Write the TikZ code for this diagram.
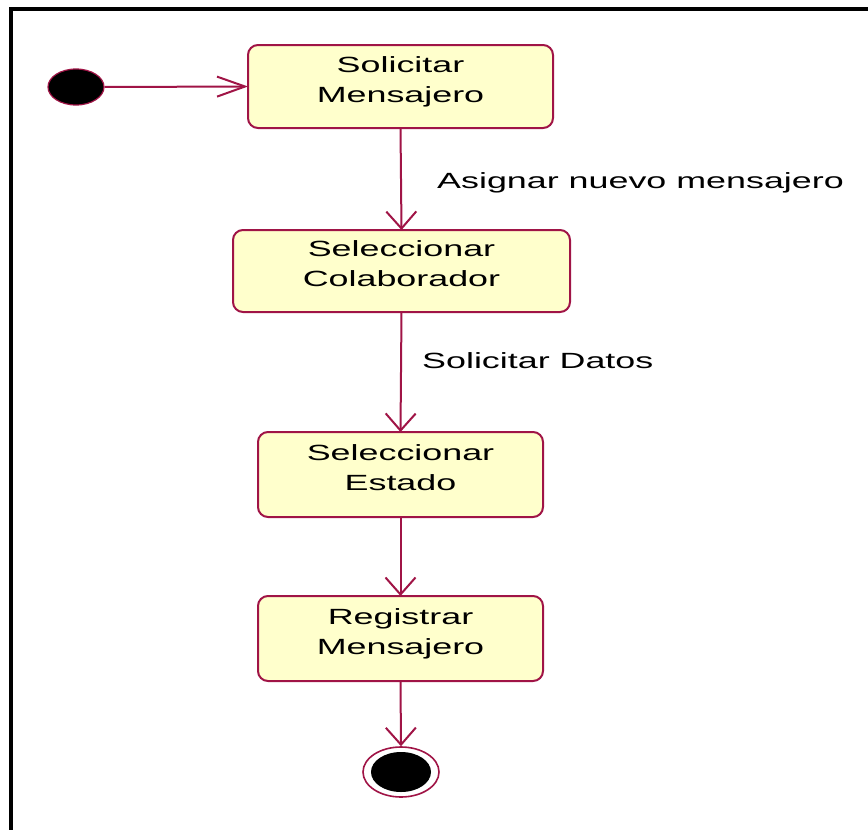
\documentclass[tikz,border=0pt]{standalone}
\usepackage{fontspec}
\usetikzlibrary{arrows.meta,shapes.geometric}
\newfontfamily\umlfont[FakeStretch=1.63]{Liberation Sans}
\definecolor{umlline}{RGB}{160,20,70}
\definecolor{umlfill}{RGB}{255,255,204}
% two-line state name, centred on the math axis of the box centre
\newcommand\statetext[2]{\smash{\begin{tabular}{@{}c@{}}#1\\#2\end{tabular}}}
\begin{document}
\begin{tikzpicture}[x=1pt,y=-1pt,
  state/.style={draw=umlline,fill=umlfill,line width=2pt,rounded corners=10pt,
    inner sep=0pt,outer sep=0pt,align=center,text=black,
    font=\umlfont\fontsize{22}{30}\selectfont},
  lbl/.style={inner sep=0pt,anchor=base west,text=black,
    font=\umlfont\fontsize{22}{30}\selectfont},
  flow/.style={draw=umlline,line width=2pt},
  harrow/.style={flow,-{Straight Barb[length=28pt,width=20pt,line width=2pt]}},
  varrow/.style={flow,-{Straight Barb[length=17pt,width=30pt,line width=2pt]}}]
\useasboundingbox (0,0) rectangle (868,830);
% frame (left and top edges)
\draw[line width=4pt,black] (10.5,830) -- (10.5,8.5) -- (868,8.5);

% initial state
\node[ellipse,draw=umlline,fill=black,line width=1.2pt,minimum width=56pt,minimum height=36pt,inner sep=0pt] (start) at (76,87) {};

% activity states
\node[state,minimum width=305pt,minimum height=83pt] (s1) at (400.5,86.5) {\statetext{Solicitar}{Mensajero}};
\node[state,minimum width=337pt,minimum height=82pt] (s2) at (401.5,271) {\statetext{Seleccionar}{Colaborador}};
\node[state,minimum width=285pt,minimum height=85pt] (s3) at (400.5,474.5) {\statetext{Seleccionar}{Estado}};
\node[state,minimum width=285pt,minimum height=85pt] (s4) at (400.5,638.5) {\statetext{Registrar}{Mensajero}};

% final state
\node[ellipse,draw=umlline,fill=white,line width=1.6pt,minimum width=76pt,minimum height=50pt,inner sep=0pt] (final) at (401,772) {};
\node[ellipse,fill=black,minimum width=60pt,minimum height=40pt,inner sep=0pt] (finalcore) at (401,772) {};

% transitions
\draw[harrow] (start.east) -- (s1.west);
\draw[varrow] (s1.south) -- (s2.north);
\draw[varrow] (s2.south) -- (s3.north);
\draw[varrow] (s3.south) -- (s4.north);
\draw[varrow] (s4.south) -- (final.north);

% transition labels
\node[lbl] (l1) at (437,188) {Asignar nuevo mensajero};
\node[lbl] (l2) at (422,368) {Solicitar Datos};
\end{tikzpicture}
\end{document}
